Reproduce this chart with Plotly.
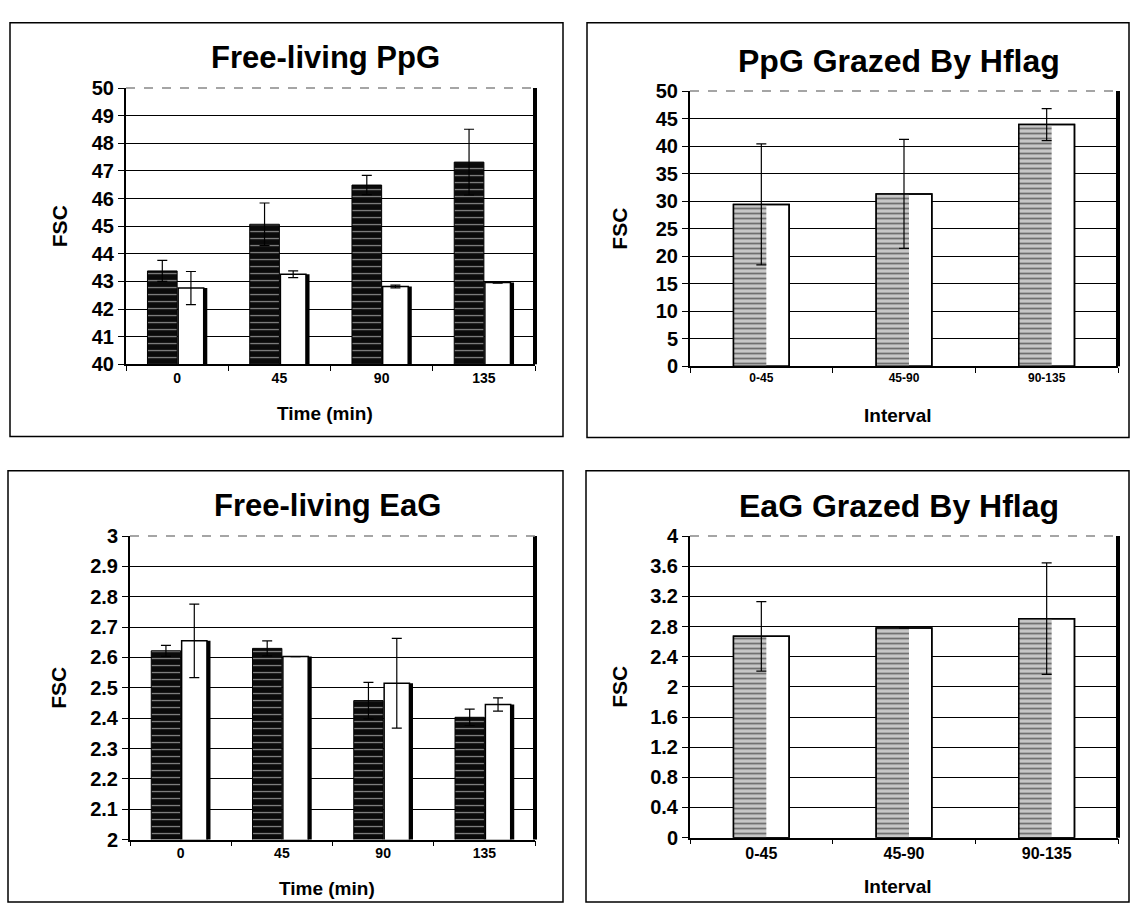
import plotly.graph_objects as go

# ---------------- data ----------------
time_cats = ["0", "45", "90", "135"]
interval_cats = ["0-45", "45-90", "90-135"]

ppg_free_a = [43.38, 45.07, 46.49, 47.32]
ppg_free_a_err = [0.38, 0.77, 0.35, 1.19]
ppg_free_b = [42.76, 43.26, 42.82, 42.96]
ppg_free_b_err = [0.60, 0.12, 0.05, 0.02]

ppg_grazed = [29.4, 31.3, 43.9]
ppg_grazed_err = [11.0, 9.9, 2.9]

eag_free_a = [2.622, 2.630, 2.458, 2.403]
eag_free_a_err = [0.018, 0.025, 0.060, 0.027]
eag_free_b = [2.655, 2.603, 2.515, 2.445]
eag_free_b_err = [0.121, 0.0, 0.148, 0.022]

eag_grazed = [2.67, 2.78, 2.905]
eag_grazed_err = [0.46, 0.0, 0.74]

titles = ["Free-living PpG", "PpG Grazed By Hflag", "Free-living EaG", "EaG Grazed By Hflag"]
xtitles = ["Time (min)", "Interval", "Time (min)", "Interval"]
ytitle = "FSC"

# ---------------- layout geometry (pixels) ----------------
W, H = 1130, 916
FONT = "Liberation Sans, Arial, sans-serif"


def fx(x):
    return x / W


def fy(y):
    return 1 - y / H


plots = {
    1: dict(x=(126, 535), y=(79, 362)),
    2: dict(x=(690, 1118), y=(82, 364)),
    3: dict(x=(130, 535), y=(538, 849)),
    4: dict(x=(690, 1118), y=(538, 847)),
}
boxes = {
    1: (10, 12, 563, 436),
    2: (587, 12, 1129, 437),
    3: (8, 471, 563, 913),
    4: (586, 471, 1129, 913),
}

dark_pattern = dict(shape="-", fgcolor="white", bgcolor="#0a0a0a", size=7, solidity=0.18)
grey_pattern = dict(shape="-", fgcolor="#111111", bgcolor="#c8c8c8", size=5, solidity=0.35)


def err(arr, w=5):
    return dict(type="data", array=arr, visible=True, color="black", thickness=1.2, width=w)


fig = go.Figure()


def paired(cats, a, a_err, b, b_err, n):
    xa, ya = ("x", "y") if n == 1 else (f"x{n}", f"y{n}")
    fig.add_trace(go.Bar(
        x=cats, y=a, width=0.29, offset=-0.29,
        marker=dict(color="black", pattern=dark_pattern, line=dict(color="black", width=1)),
        error_y=err(a_err), xaxis=xa, yaxis=ya, showlegend=False))
    # black shadow behind the white bar (thick right edge)
    fig.add_trace(go.Bar(
        x=cats, y=b, width=0.285, offset=0.01,
        marker=dict(color="black", line=dict(width=0)),
        xaxis=xa, yaxis=ya, showlegend=False, hoverinfo="skip"))
    fig.add_trace(go.Bar(
        x=cats, y=b, width=0.25, offset=0.01,
        marker=dict(color="white", line=dict(color="black", width=1.5)),
        error_y=err(b_err), xaxis=xa, yaxis=ya, showlegend=False))


def single(cats, v, v_err, n):
    xa, ya = f"x{n}", f"y{n}"
    fig.add_trace(go.Bar(
        x=cats, y=v, width=0.39, offset=-0.195,
        marker=dict(color="white", line=dict(color="black", width=1.5)),
        xaxis=xa, yaxis=ya, showlegend=False, hoverinfo="skip"))
    fig.add_trace(go.Bar(
        x=cats, y=v, width=0.23, offset=-0.195,
        marker=dict(color="#c8c8c8", pattern=grey_pattern, line=dict(width=0)),
        xaxis=xa, yaxis=ya, showlegend=False, hoverinfo="skip"))
    fig.add_trace(go.Bar(
        x=cats, y=v, width=0.39, offset=-0.195,
        marker=dict(color="rgba(0,0,0,0)", line=dict(color="black", width=1.5)),
        error_y=err(v_err), xaxis=xa, yaxis=ya, showlegend=False))


paired(time_cats, ppg_free_a, ppg_free_a_err, ppg_free_b, ppg_free_b_err, 1)
single(interval_cats, ppg_grazed, ppg_grazed_err, 2)
paired(time_cats, eag_free_a, eag_free_a_err, eag_free_b, eag_free_b_err, 3)
single(interval_cats, eag_grazed, eag_grazed_err, 4)

yranges = {1: (40, 50, 1), 2: (0, 50, 5), 3: (2, 3, 0.1), 4: (0, 4, 0.4)}
xfont = {1: 14, 2: 12, 3: 14, 4: 16}
tsize = {1: 31, 2: 32, 3: 31, 4: 32}

layout = dict(
    width=W, height=H, margin=dict(l=0, r=0, t=0, b=0),
    paper_bgcolor="white", plot_bgcolor="white",
    barmode="overlay", showlegend=False,
    font=dict(family=FONT, color="black"),
)
shapes = []
annotations = []
for n, g in plots.items():
    xs = "xaxis" if n == 1 else f"xaxis{n}"
    ys = "yaxis" if n == 1 else f"yaxis{n}"
    xr = "x" if n == 1 else f"x{n}"
    yr = "y" if n == 1 else f"y{n}"
    cats = time_cats if n in (1, 3) else interval_cats
    lo, hi, dt = yranges[n]
    layout[xs] = dict(
        domain=[fx(g["x"][0]), fx(g["x"][1])], anchor=yr, type="category",
        range=[-0.5, len(cats) - 0.5], showline=True, linecolor="black", linewidth=1.5,
        ticks="outside", tickson="boundaries", ticklen=5, tickcolor="black",
        tickfont=dict(size=xfont[n], family=FONT, weight="bold"), showgrid=False,
        fixedrange=True,
    )
    layout[ys] = dict(
        domain=[fy(g["y"][1]), fy(g["y"][0])], anchor=xr,
        range=[lo, hi], dtick=dt, tick0=lo, showgrid=True, gridcolor="black", gridwidth=1,
        showline=True, linecolor="black", linewidth=2, ticks="outside", ticklen=6,
        tickcolor="black", tickfont=dict(size=20, family=FONT, weight="bold"),
        zeroline=False, fixedrange=True,
    )
    # thick right border of plot area
    shapes.append(dict(type="line", xref=f"{xr} domain", yref=f"{yr} domain",
                       x0=1, x1=1, y0=0, y1=1, line=dict(color="black", width=4)))
    # light dashed top border of plot area
    shapes.append(dict(type="line", xref=f"{xr} domain", yref=f"{yr} domain",
                       x0=0, x1=1, y0=1, y1=1, line=dict(color="#888888", width=1.5, dash="dash")))
    # frame around panel
    bx0, by0, bx1, by1 = boxes[n]
    shapes.append(dict(type="rect", xref="paper", yref="paper",
                       x0=fx(bx0), x1=fx(bx1), y0=fy(by1), y1=fy(by0),
                       line=dict(color="black", width=1.5), fillcolor="rgba(0,0,0,0)"))
    cx = (g["x"][0] + g["x"][1]) / 2
    cy = (g["y"][0] + g["y"][1]) / 2
    # panel title
    annotations.append(dict(text=titles[n - 1], xref="paper", yref="paper",
                            x=fx(cx - 5), y=fy(g["y"][0] - 31), showarrow=False,
                            xanchor="center", yanchor="middle",
                            font=dict(size=tsize[n], family=FONT, weight="bold")))
    # x axis title
    annotations.append(dict(text=xtitles[n - 1], xref="paper", yref="paper",
                            x=fx(cx - 6), y=fy(g["y"][1] + 50), showarrow=False,
                            xanchor="center", yanchor="middle",
                            font=dict(size=19, family=FONT, weight="bold")))
    # y axis title
    ytx = 59 if n in (1, 3) else 620
    annotations.append(dict(text=ytitle, xref="paper", yref="paper",
                            x=fx(ytx), y=fy(cy), showarrow=False, textangle=-90,
                            xanchor="center", yanchor="middle",
                            font=dict(size=21, family=FONT, weight="bold")))

layout["shapes"] = shapes
layout["annotations"] = annotations
fig.update_layout(**layout)

fig.write_html("out.html")
